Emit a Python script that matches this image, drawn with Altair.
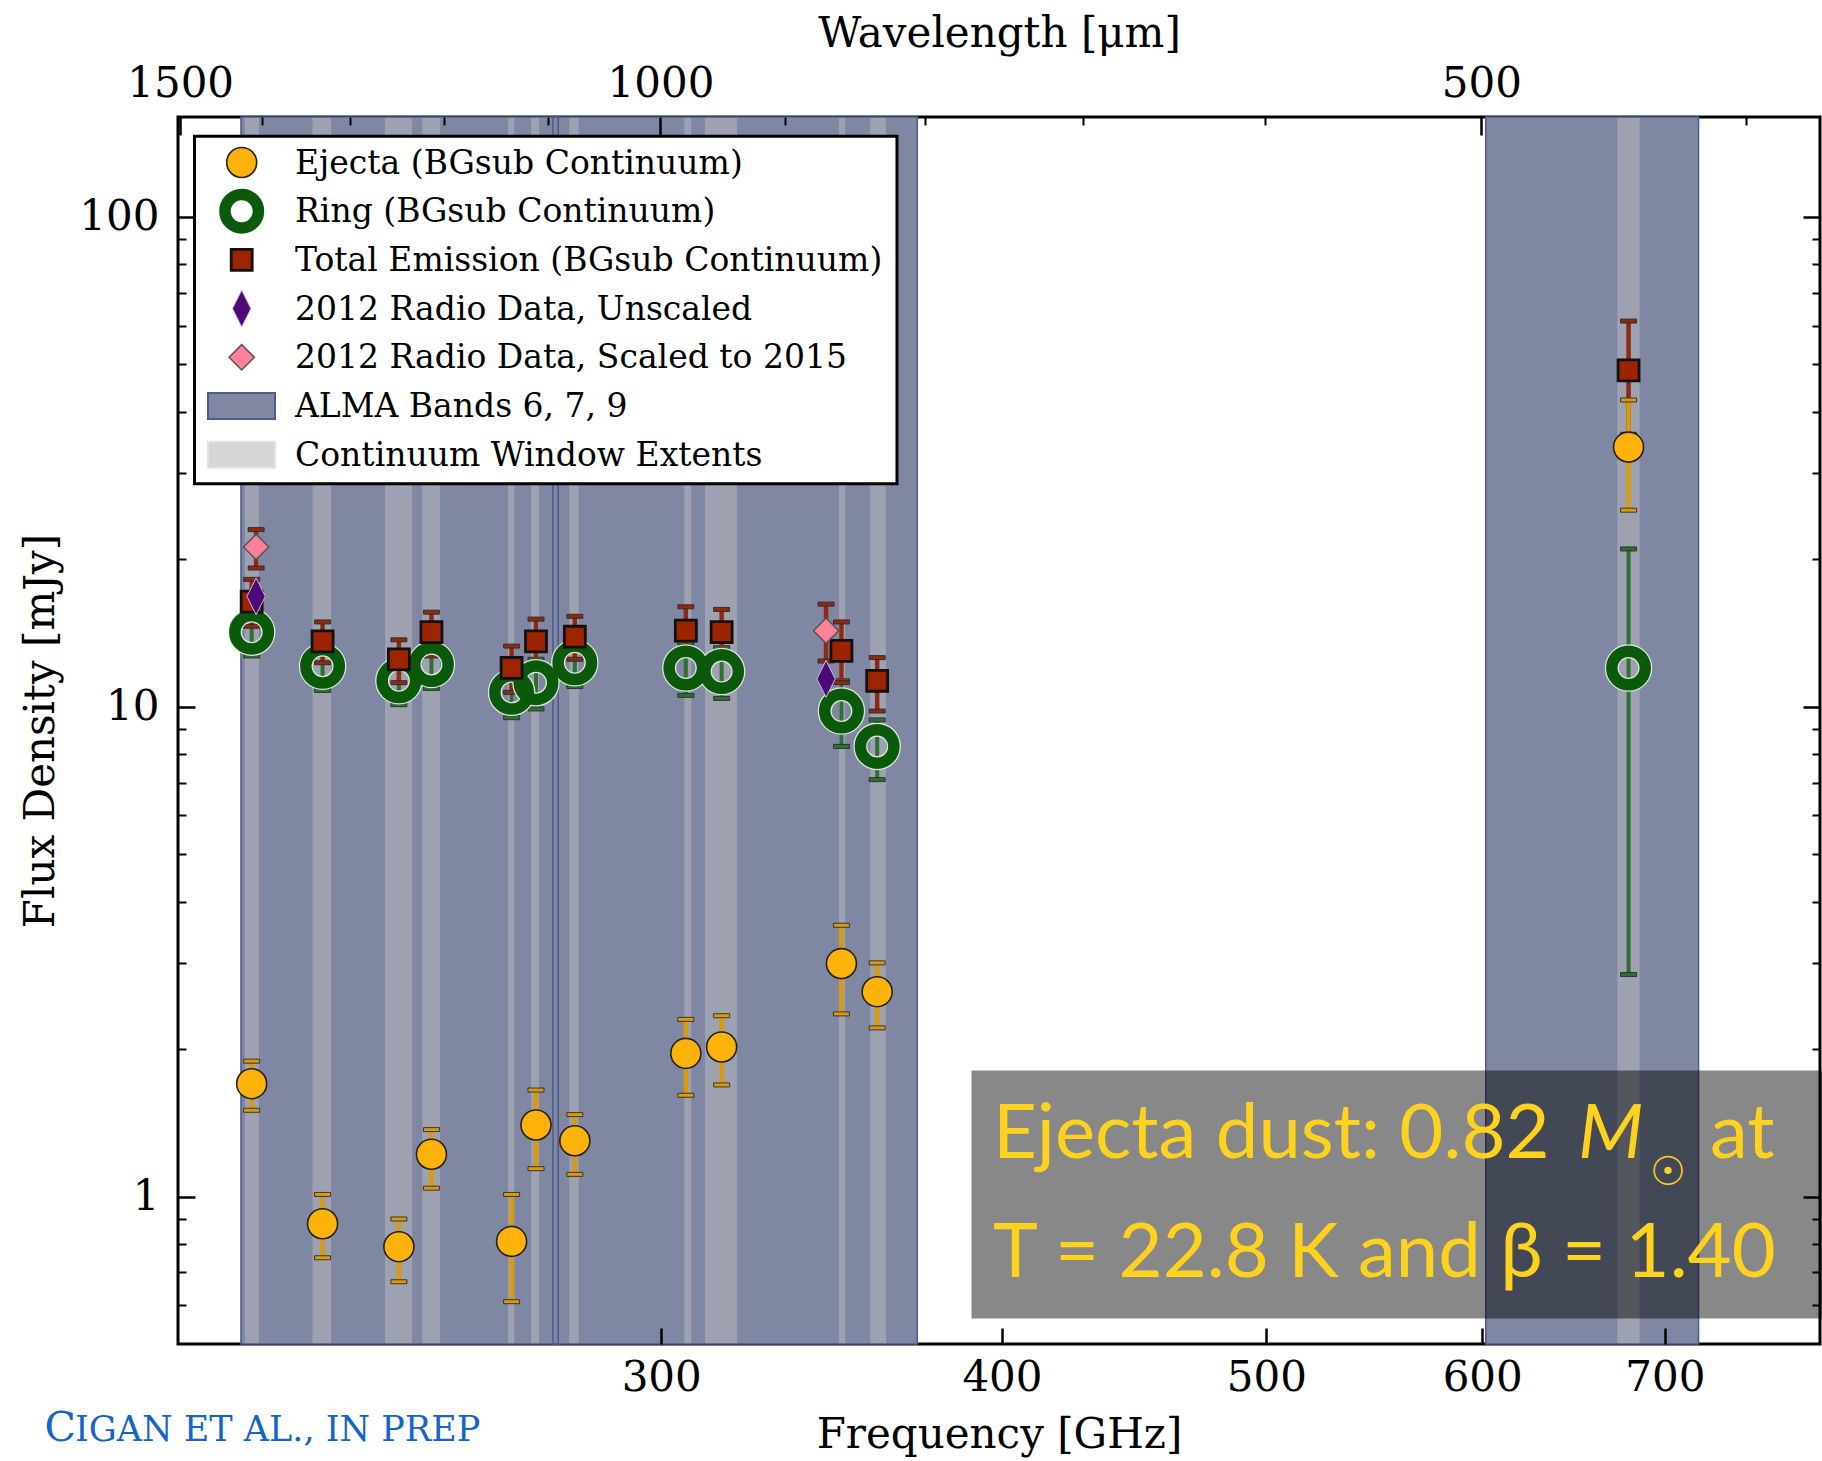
import altair as alt
import pandas as pd

# ---------------- data ----------------
C_UM_GHZ = 299792.458  # wavelength[um] * frequency[GHz]

freq = [212.3, 225.4, 240.4, 247.1, 264.4, 269.9, 278.9, 306.3, 315.7, 349.3, 360.0, 678.9]
ejecta = [1.70, 0.88, 0.79, 1.22, 0.81, 1.40, 1.30, 1.96, 2.02, 2.99, 2.62, 33.9]
ejecta_lo = [1.50, 0.75, 0.67, 1.04, 0.61, 1.14, 1.11, 1.61, 1.69, 2.36, 2.21, 25.2]
ejecta_hi = [1.89, 1.01, 0.90, 1.37, 1.01, 1.65, 1.47, 2.30, 2.34, 3.58, 3.00, 42.3]
ring = [14.2, 12.1, 11.3, 12.2, 10.7, 11.2, 12.3, 12.0, 11.8, 9.8, 8.3, 12.0]
ring_lo = [12.7, 10.8, 10.1, 10.9, 9.5, 9.9, 11.0, 10.55, 10.4, 8.3, 7.1, 2.84]
ring_hi = [15.7, 13.4, 12.5, 13.5, 11.8, 12.5, 13.6, 13.5, 13.2, 11.3, 9.4, 21.0]
total = [16.4, 13.6, 12.5, 14.2, 12.0, 13.6, 13.9, 14.3, 14.2, 13.0, 11.3, 48.6]
total_lo = [14.6, 12.3, 11.2, 12.7, 10.7, 12.2, 12.5, 12.7, 12.6, 11.2, 9.8, 36.0]
total_hi = [18.2, 14.9, 13.7, 15.6, 13.3, 15.1, 15.3, 16.0, 15.8, 14.9, 12.6, 61.3]

radio_freq = [213.1, 344.8]
radio_unscaled = [16.8, 11.4]
radio_scaled = [21.2, 14.3]
radio_scaled_lo = [19.2, 12.4]
radio_scaled_hi = [23.0, 16.2]

band_names = ["Band 6", "Band 7", "Band 9"]
band_lo = [210.4, 273.8, 601.8]
band_hi = [275.0, 372.4, 720.2]

window_lo = [211.1, 223.5, 237.6, 245.2, 263.6, 268.8, 277.6, 305.9, 311.3, 348.6, 357.9, 672.5]
window_hi = [213.6, 227.0, 243.1, 248.9, 265.0, 270.6, 279.8, 307.7, 319.8, 350.4, 362.7, 685.3]

legend_labels = [
    "Ejecta (BGsub Continuum)",
    "Ring (BGsub Continuum)",
    "Total Emission (BGsub Continuum)",
    "2012 Radio Data, Unscaled",
    "2012 Radio Data, Scaled to 2015",
    "ALMA Bands 6, 7, 9",
    "Continuum Window Extents",
]

bottom_ticks = [300, 400, 500, 600, 700]
top_ticks_um = [1500, 1000, 500]
top_minor_um = [1400, 1300, 1200, 1100, 900, 800, 700, 600, 400]
y_ticks = [1, 10, 100]
y_minor = [0.6, 0.7, 0.8, 0.9, 2, 3, 4, 5, 6, 7, 8, 9, 20, 30, 40, 50, 60, 70, 80, 90]

# ---------------- tables ----------------
df = pd.DataFrame({
    "freq": freq, "ejecta": ejecta, "ejecta_lo": ejecta_lo, "ejecta_hi": ejecta_hi,
    "ring": ring, "ring_lo": ring_lo, "ring_hi": ring_hi,
    "total": total, "total_lo": total_lo, "total_hi": total_hi,
})
radio = pd.DataFrame({
    "freq": radio_freq, "unscaled": radio_unscaled, "scaled": radio_scaled,
    "scaled_lo": radio_scaled_lo, "scaled_hi": radio_scaled_hi,
})
bands = pd.DataFrame({"band": band_names, "lo": band_lo, "hi": band_hi})
windows = pd.DataFrame({"lo": window_lo, "hi": window_hi})
one = pd.DataFrame({"f": [300.0], "v": [1.0]})

# ---------------- styling ----------------
W, H = 1642, 1227
SERIF = "DejaVu Serif"
xs = alt.Scale(type="log", domain=[199.5, 798], nice=False)
ys = alt.Scale(type="log", domain=[0.5, 160], nice=False)

BAND = "#7f87a3"
BAND_EDGE = "#4f5c8e"
WINDOW = "#9ea2b0"
ORANGE = "#ffb20a"
ORANGE_BAR = "#d99a0c"
GREEN = "#0b5a0b"
GREEN_BAR = "#2e7032"
RED = "#9c2400"
RED_BAR = "#8e2a12"
PURPLE = "#4b0a78"
PINK = "#ff8199"
CAP = "M-1,-0.25H1V0.25H-1Z"
THIN_DIAMOND = "M0,-1L0.5,0L0,1L-0.5,0Z"


def X(field):
    return alt.X(field + ":Q", scale=xs, axis=None)


def Y(field):
    return alt.Y(field + ":Q", scale=ys, axis=None)


layers = []

# ALMA bands (fill), continuum windows, band edges
layers.append(alt.Chart(bands).mark_rect(color=BAND, opacity=1).encode(
    x=X("lo"), x2="hi", y=alt.value(0), y2=alt.value(H)))
layers.append(alt.Chart(windows).mark_rect(color=WINDOW, opacity=1).encode(
    x=X("lo"), x2="hi", y=alt.value(0), y2=alt.value(H)))
layers.append(alt.Chart(bands).mark_rect(fillOpacity=0, stroke=BAND_EDGE, strokeWidth=1.6).encode(
    x=X("lo"), x2="hi", y=alt.value(0), y2=alt.value(H)))

# annotation box
layers.append(alt.Chart(one).mark_rect(color="#000000", opacity=0.467).encode(
    x=alt.value(793.5), x2=alt.value(1646), y=alt.value(953.6), y2=alt.value(1201.6)))


def errbar(data, lo, hi, color, width=4.5):
    return alt.Chart(data).mark_rule(color=color, strokeWidth=width).encode(
        x=X("freq"), y=Y(lo), y2=hi + ":Q")


def caps(data, col, color):
    return alt.Chart(data).mark_point(shape=CAP, size=256, filled=True, fill=color,
                                      stroke="#2a2a2a", strokeWidth=0.9, opacity=1).encode(
        x=X("freq"), y=Y(col))


# error bars
layers += [
    errbar(df, "ring_lo", "ring_hi", GREEN_BAR, 4),
    caps(df, "ring_lo", GREEN_BAR), caps(df, "ring_hi", GREEN_BAR),
    errbar(df, "total_lo", "total_hi", RED_BAR),
    caps(df, "total_lo", RED_BAR), caps(df, "total_hi", RED_BAR),
    errbar(df, "ejecta_lo", "ejecta_hi", ORANGE_BAR),
    caps(df, "ejecta_lo", ORANGE_BAR), caps(df, "ejecta_hi", ORANGE_BAR),
    errbar(radio, "scaled_lo", "scaled_hi", RED_BAR),
    caps(radio, "scaled_lo", RED_BAR), caps(radio, "scaled_hi", RED_BAR),
]

# marker styles
S_EJECTA = dict(shape="circle", size=900, filled=True, fill=ORANGE, stroke="#222222", strokeWidth=1.6)
S_RING_HALO = dict(shape="circle", size=1122, filled=False, stroke="#dce8dc", strokeWidth=14)
S_RING = dict(shape="circle", size=1122, filled=False, stroke=GREEN, strokeWidth=11.5)
S_TOTAL = dict(shape="square", size=440, filled=True, fill=RED, stroke="#111111", strokeWidth=2.8)
S_UNSCALED = dict(shape=THIN_DIAMOND, size=1350, filled=True, fill=PURPLE, stroke="#c8b8d8", strokeWidth=1)
S_SCALED = dict(shape="diamond", size=640, filled=True, fill=PINK, stroke="#555555", strokeWidth=1.5)

layers += [
    alt.Chart(df).mark_point(opacity=1, **S_RING_HALO).encode(x=X("freq"), y=Y("ring")),
    alt.Chart(df).mark_point(opacity=1, **S_RING).encode(x=X("freq"), y=Y("ring")),
    alt.Chart(df).mark_point(opacity=1, **S_TOTAL).encode(x=X("freq"), y=Y("total")),
    alt.Chart(df).mark_point(opacity=1, **S_EJECTA).encode(x=X("freq"), y=Y("ejecta")),
    alt.Chart(radio).mark_point(opacity=1, **S_UNSCALED).encode(x=X("freq"), y=Y("unscaled")),
    alt.Chart(radio).mark_point(opacity=1, **S_SCALED).encode(x=X("freq"), y=Y("scaled")),
]

# annotation text
ANN = "#ffd21e"
ANN_FONT = "Lato"
layers += [
    alt.Chart(one).mark_text(text="Ejecta dust: 0.82", font=ANN_FONT, fontSize=76, color=ANN,
                             align="left", baseline="alphabetic").encode(x=alt.value(815), y=alt.value(1040.6)),
    alt.Chart(one).mark_text(text="M", font=ANN_FONT, fontSize=76, fontStyle="italic", color=ANN,
                             align="left", baseline="alphabetic").encode(x=alt.value(1400), y=alt.value(1040.6)),
    alt.Chart(one).mark_text(text="\u2609", font="DejaVu Sans", fontSize=40, color=ANN,
                             align="center", baseline="middle").encode(x=alt.value(1490), y=alt.value(1055.6)),
    alt.Chart(one).mark_text(text="at", font=ANN_FONT, fontSize=76, color=ANN,
                             align="left", baseline="alphabetic").encode(x=alt.value(1532), y=alt.value(1040.6)),
    alt.Chart(one).mark_text(text="T = 22.8 K and \u03b2 = 1.40", font=ANN_FONT, fontSize=76, color=ANN,
                             align="left", baseline="alphabetic").encode(x=alt.value(815), y=alt.value(1159.6)),
]

# credit line (small caps imitation)
CREDIT = "#1565c8"
layers += [
    alt.Chart(one).mark_text(text="C", font=SERIF, fontSize=41, color=CREDIT,
                             align="left", baseline="alphabetic").encode(x=alt.value(-133.4), y=alt.value(1323.6)),
    alt.Chart(one).mark_text(text="IGAN ET AL., IN PREP", font=SERIF, fontSize=35, color=CREDIT,
                             align="left", baseline="alphabetic").encode(x=alt.value(-103), y=alt.value(1323.6)),
]

# legend (drawn manually)
LX, LY0, LDY = 63.7, 45.5, 48.7
layers.append(alt.Chart(one).mark_rect(fill="white", stroke="black", strokeWidth=3).encode(
    x=alt.value(16.5), x2=alt.value(719), y=alt.value(19.3), y2=alt.value(366.8)))
rows = [LY0 + i * LDY for i in range(len(legend_labels))]
for spec, ry in zip([S_EJECTA, S_RING, S_TOTAL, S_UNSCALED, S_SCALED], rows):
    layers.append(alt.Chart(one).mark_point(opacity=1, **spec).encode(x=alt.value(LX), y=alt.value(ry)))
layers.append(alt.Chart(one).mark_rect(fill=BAND, stroke=BAND_EDGE, strokeWidth=2).encode(
    x=alt.value(30), x2=alt.value(97), y=alt.value(rows[5] - 13), y2=alt.value(rows[5] + 13)))
layers.append(alt.Chart(one).mark_rect(fill="#d6d6d6", stroke="#e2e2e2", strokeWidth=2).encode(
    x=alt.value(30), x2=alt.value(97), y=alt.value(rows[6] - 13), y2=alt.value(rows[6] + 13)))
for lab, ry in zip(legend_labels, rows):
    layers.append(alt.Chart(one).mark_text(text=lab, font=SERIF, fontSize=33, color="black",
                                           align="left", baseline="middle").encode(
        x=alt.value(117), y=alt.value(ry + 1)))


# axes (inward ticks via negative offset)
def xaxis(orient, values, tick, labels=False, title=None, expr=None, pad=10, tpad=10, width=2.5):
    kw = dict(orient=orient, values=values, tickSize=tick, offset=-tick, domain=False,
              labels=labels, tickWidth=width, zindex=2, labelFlush=False, labelOverlap=False,
              labelPadding=pad, titlePadding=tpad)
    if expr:
        kw["labelExpr"] = expr
    else:
        kw["format"] = "d"
    return alt.Chart(one).mark_point(opacity=0).encode(
        x=alt.X("f:Q", scale=xs, axis=alt.Axis(**kw), title=title),
        y=alt.Y("v:Q", scale=ys, axis=None))


def yaxis(orient, values, tick, labels=False, title=None, pad=19, tpad=16, width=2.5):
    kw = dict(orient=orient, values=values, tickSize=tick, offset=-tick, domain=False,
              labels=labels, tickWidth=width, zindex=2, labelOverlap=False, format="d",
              labelPadding=pad, titlePadding=tpad)
    return alt.Chart(one).mark_point(opacity=0).encode(
        y=alt.Y("v:Q", scale=ys, axis=alt.Axis(**kw), title=title),
        x=alt.X("f:Q", scale=xs, axis=None))


top_major = [C_UM_GHZ / w for w in top_ticks_um]
top_minor = [C_UM_GHZ / w for w in top_minor_um]
layers += [
    xaxis("bottom", bottom_ticks, 16, labels=True, title="Frequency [GHz]", pad=13, tpad=16),
    xaxis("top", top_major, 18, labels=True, title="Wavelength [\u03bcm]",
          expr="format(299792.458 / datum.value, '.0f')", pad=12, tpad=7),
    xaxis("top", top_minor, 8, width=2),
    yaxis("left", y_ticks, 17, labels=True, title="Flux Density [mJy]"),
    yaxis("left", y_minor, 8, width=2),
    yaxis("right", y_ticks, 17),
    yaxis("right", y_minor, 8, width=2),
]

chart = alt.layer(*layers).resolve_axis(x="independent", y="independent").properties(
    width=W, height=H,
    autosize=alt.AutoSizeParams(type="none"),
    padding={"left": 178, "top": 117, "right": 2, "bottom": 117},
    background="white",
).configure_axis(
    grid=False, labelFont=SERIF, labelFontSize=42, titleFont=SERIF, titleFontSize=42,
    titleFontWeight="normal", labelColor="black", titleColor="black", tickColor="black",
).configure_view(stroke="black", strokeWidth=3)

chart.save("out.html", embed_options={"renderer": "svg", "actions": False})
